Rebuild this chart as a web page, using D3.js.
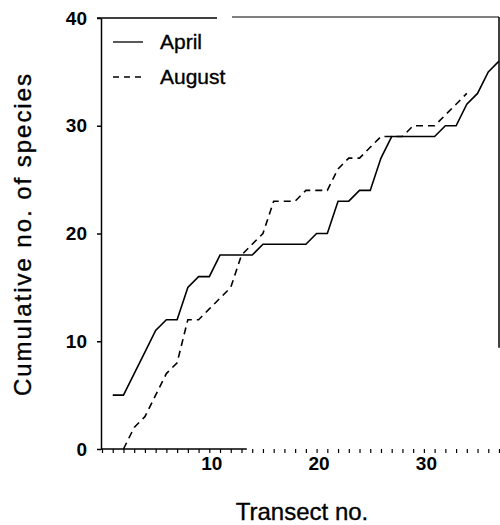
<!DOCTYPE html>
<html>
<head>
<meta charset="utf-8">
<script src="https://cdn.jsdelivr.net/npm/d3@7"></script>
<style>
  body { margin: 0; background: #fff; }
  svg { display: block; font-family: "Liberation Sans", Arial, sans-serif; }
  text { fill: #000; stroke: #000; stroke-width: 0.35px; }
</style>
</head>
<body>
<div id="chart"></div>
<script>
'use strict';

// transect numbers and cumulative species counts
const aprilTransects = d3.range(1, 38);
const aprilSpecies = [5, 5, 7, 9, 11, 12, 12, 15, 16, 16, 18, 18, 18, 18, 19, 19, 19, 19, 19, 20,
    20, 23, 23, 24, 24, 27, 29, 29, 29, 29, 29, 30, 30, 32, 33, 35, 36];

const augustTransects = d3.range(2, 35);
const augustSpecies = [0, 2, 3, 5, 7, 8, 12, 12, 13, 14, 15, 18, 19, 20, 23, 23, 23, 24, 24, 24,
    26, 27, 27, 28, 29, 29, 29, 30, 30, 30, 31, 32, 33];

const xTickValues = d3.range(0, 38);
const xTickLabels = [10, 20, 30];
const yTickValues = [0, 10, 20, 30, 40];

const seriesNames = ['April', 'August'];

const width = 500, height = 525;

const svg = d3.select('#chart')
  .append('svg')
    .attr('width', width)
    .attr('height', height);

const x = d3.scaleLinear().domain([0, 37]).range([102, 499]);
const y = d3.scaleLinear().domain([0, 40]).range([449, 18]);

// x axis: ticks at every transect, labels every 10
const xAxis = svg.append('g')
    .attr('transform', `translate(0,${y(0)})`)
    .call(d3.axisBottom(x)
        .tickValues(xTickValues)
        .tickSize(4)
        .tickPadding(4)
        .tickFormat(d => xTickLabels.includes(d) ? d : ''));
xAxis.select('.domain').remove();
xAxis.selectAll('.tick line').attr('stroke', '#000').attr('stroke-width', 1.2);
xAxis.selectAll('text')
    .attr('dx', 2)
    .style('font-size', '19px')
    .style('font-weight', 'bold')
    .style('stroke-width', '0');

// the scanned baseline only shows as a solid line for the first part
svg.append('line')
    .attr('x1', x(0) - 1).attr('x2', x(13.5))
    .attr('y1', y(0)).attr('y2', y(0))
    .attr('stroke', '#000').attr('stroke-width', 1.5);

// y axis
const yAxis = svg.append('g')
    .attr('transform', `translate(${x(0) - 1},0)`)
    .call(d3.axisLeft(y)
        .tickValues(yTickValues)
        .tickSize(4)
        .tickSizeOuter(0)
        .tickPadding(10));
yAxis.select('.domain').attr('stroke', '#000').attr('stroke-width', 1.5);
yAxis.selectAll('.tick line').attr('stroke', '#000').attr('stroke-width', 1.5);
yAxis.selectAll('text')
    .style('font-size', '19px')
    .style('font-weight', 'bold')
    .style('stroke-width', '0');

// frame top (broken in the original) and right side
svg.append('line')
    .attr('x1', x(0) - 5).attr('x2', 217)
    .attr('y1', y(40)).attr('y2', y(40))
    .attr('stroke', '#000').attr('stroke-width', 1.5);
svg.append('line')
    .attr('x1', 232).attr('x2', x(37))
    .attr('y1', y(40) - 1).attr('y2', y(40) - 1)
    .attr('stroke', '#000').attr('stroke-width', 1.2);
svg.append('line')
    .attr('x1', x(37)).attr('x2', x(37))
    .attr('y1', y(40) - 1).attr('y2', y(9.4))
    .attr('stroke', '#000').attr('stroke-width', 1.5);

// lines
const line = d3.line()
    .x(d => x(d[0]))
    .y(d => y(d[1]));

svg.append('path')
    .datum(d3.zip(aprilTransects, aprilSpecies))
    .attr('fill', 'none')
    .attr('stroke', '#000')
    .attr('stroke-width', 1.6)
    .attr('d', line);

svg.append('path')
    .datum(d3.zip(augustTransects, augustSpecies))
    .attr('fill', 'none')
    .attr('stroke', '#000')
    .attr('stroke-width', 1.6)
    .attr('stroke-dasharray', '7,5')
    .attr('d', line);

// legend
const legend = svg.append('g');
seriesNames.forEach((name, i) => {
    const ly = 42 + i * 35;
    legend.append('line')
        .attr('x1', 113).attr('x2', 143)
        .attr('y1', ly).attr('y2', ly)
        .attr('stroke', '#000')
        .attr('stroke-width', 1.3)
        .attr('stroke-dasharray', i === 1 ? '6,5' : null);
    legend.append('text')
        .attr('x', 160)
        .attr('y', ly + 7)
        .style('font-size', '21px')
        .text(name);
});

// axis titles
svg.append('text')
    .attr('x', 302)
    .attr('y', 520)
    .attr('text-anchor', 'middle')
    .style('font-size', '24px')
    .text('Transect no.');

svg.append('text')
    .attr('transform', 'translate(31,235) rotate(-90)')
    .attr('text-anchor', 'middle')
    .attr('textLength', 322)
    .attr('lengthAdjust', 'spacing')
    .style('font-size', '24px')
    .text('Cumulative no. of species');
</script>
</body>
</html>
